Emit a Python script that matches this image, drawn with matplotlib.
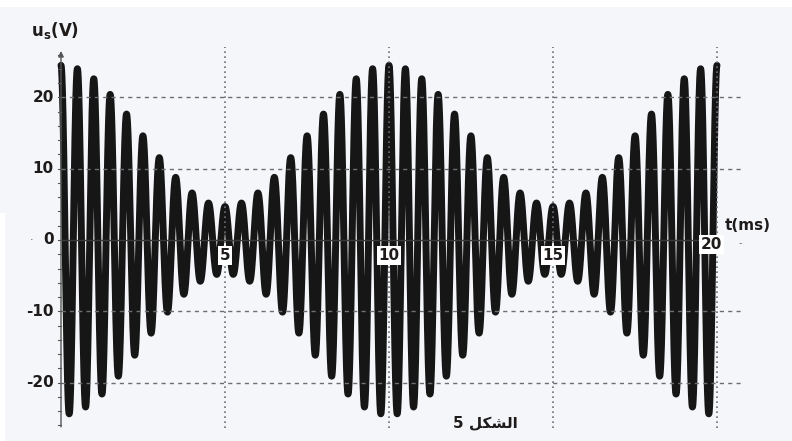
import numpy as np
import matplotlib.pyplot as plt
from matplotlib.patches import Rectangle

plt.rcParams['mathtext.fontset'] = 'dejavusans'

# oscillogram parameters
u_max = 24.5        # V, envelope maximum (t = 0, 10, 20 ms)
u_min = 4.7         # V, envelope minimum (t = 5, 15 ms)
f_carrier = 2.0     # kHz -> period 0.5 ms
f_mod = 0.1         # kHz -> period 10 ms
t_end = 20.0        # ms

x_ticks = [5, 10, 15, 20]
y_ticks = [20, 10, 0, -10, -20]
y_grid = [20, 10, -10, -20]

t = np.linspace(0, t_end, 12000)
env = (u_max + u_min) / 2 + (u_max - u_min) / 2 * np.cos(2 * np.pi * f_mod * t)
us = env * np.cos(2 * np.pi * f_carrier * t)

# pixel scale of the screen: 32.8 px per ms, 7.13 px per volt
px_t, px_u = 32.8, 7.13
x0, y0 = 61, 240
W, H = 792, 441

fig = plt.figure(figsize=(W / 100, H / 100), dpi=100, facecolor='#f4f6f9')
ax = fig.add_axes([0, 0, 1, 1])
ax.set_xlim(-x0 / px_t, (W - x0) / px_t)
ax.set_ylim(-(H - y0) / px_u, y0 / px_u)
ax.axis('off')

# white borders
fig.patches.append(Rectangle((0, 1 - 6 / H), 1, 6 / H, transform=fig.transFigure,
                             color='white', zorder=0))
fig.patches.append(Rectangle((0, 0), 4 / W, (H - 213) / H, transform=fig.transFigure,
                             color='white', zorder=0))

ax.plot(t, us, color='#161616', lw=5.0, solid_capstyle='round', zorder=2)

# grid
t_right = (743 - x0) / px_t
for g in y_grid:
    ax.plot([0, t_right], [g, g], color='#6b6f75', lw=1.0, ls=(0, (3, 3)), zorder=3)
for g in x_ticks:
    ax.plot([g, g], [-26.4, 27.1], color='#6b6f75', lw=1.2, ls=(0, (1, 2)), zorder=3)

# axes
ax.plot([0, t_end], [0, 0], color='#3a3a3a', lw=1.0, zorder=3)
ax.annotate('', xy=(0, 26.9), xytext=(0, -26.6),
            arrowprops=dict(arrowstyle='-|>', lw=1.0, color='#555555',
                            mutation_scale=8), zorder=3)
for v in np.arange(-26, 27, 2):
    ax.plot([-0.09, 0], [v, v], color='#555555', lw=0.8, zorder=3)

txt = dict(fontsize=11, fontweight='bold', color='#1e1b1a')
for v in y_ticks:
    ax.text(-0.22, v, str(v), ha='right', va='center', **txt)
for v in x_ticks:
    dy = -0.6 if v == 20 else -2.2
    ax.text(v - (0.18 if v == 20 else 0), dy, str(v), ha='center', va='center',
            bbox=dict(boxstyle='square,pad=0.12', fc='white', ec='none'),
            zorder=4, **txt)

ax.text(-0.9, 29.4, r'$\mathbf{u}_{\mathbf{s}}\mathbf{(V)}$', ha='left', va='center',
        fontsize=12, color='#1e1b1a')
ax.text(20.25, 2.1, 't(ms)', ha='left', va='center', **txt)
ax.text(-0.9, 0, '·', ha='center', va='center', fontsize=8, color='#555555')
ax.text(20.7, -0.4, '-', ha='center', va='center', fontsize=7, color='#777777')

# "الشكل 5" written in visual order with Arabic presentation forms
ax.text(12.95, -25.6, '5 \ufede\ufedc\ufeb8\ufedf\ufe8d', ha='center', va='center',
        fontsize=11, fontweight='bold', color='#1e1b1a')

fig.savefig('out.png', dpi=100, facecolor=fig.get_facecolor())
